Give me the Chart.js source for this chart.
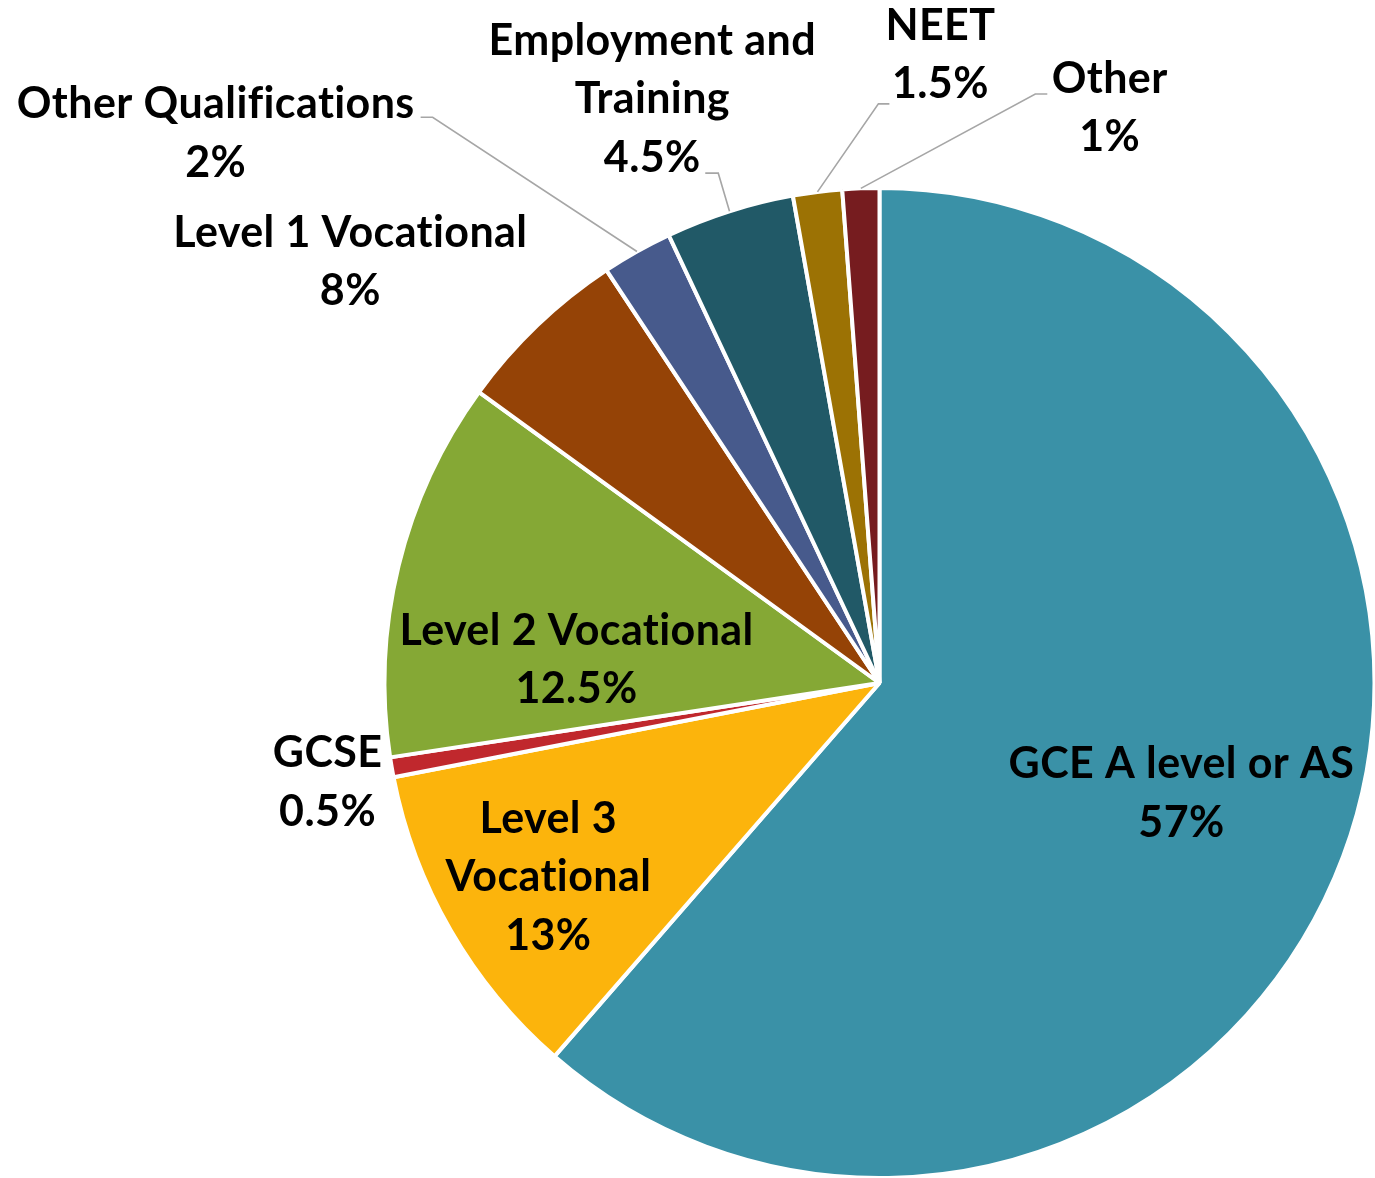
<!DOCTYPE html>
<html>
<head>
<meta charset="utf-8">
<script src="https://cdn.jsdelivr.net/npm/chart.js@4/dist/chart.umd.min.js"></script>
<style>
  html, body { margin: 0; padding: 0; background: #fff; }
  #wrap { width: 1375px; height: 1178px; position: relative; }
</style>
</head>
<body>
<div id="wrap"><canvas id="myChart"></canvas></div>
<script>
// categories, clockwise from 12 o'clock
const categories = ['GCE A level or AS', 'Level 3 Vocational', 'GCSE', 'Level 2 Vocational',
  'Level 1 Vocational', 'Other Qualifications', 'Employment and Training', 'NEET', 'Other'];
// slice sizes as drawn in the picture (percent)
const shares = [61.4, 10.55, 0.65, 12.4, 5.7, 2.3, 4.2, 1.6, 1.2];
// percentages printed on the labels
const pctText = ['57%', '13%', '0.5%', '12.5%', '8%', '2%', '4.5%', '1.5%', '1%'];
// label text, split into lines
const labelLines = [['GCE A level or AS'], ['Level 3', 'Vocational'], ['GCSE'], ['Level 2 Vocational'],
  ['Level 1 Vocational'], ['Other Qualifications'], ['Employment and', 'Training'], ['NEET'], ['Other']];

const colors = ['#3A91A7', '#FCB40C', '#C0282D', '#85A835', '#954306', '#475A8C', '#215967', '#9C7204', '#761C1F'];

// where each label sits (first baseline), in pie radii from the centre
const labelPos = [[0.610, 0.192], [-0.669, 0.303], [-1.115, 0.170], [-0.612, -0.077],
  [-1.069, -0.881], [-1.341, -1.141], [-0.459, -1.269], [0.123, -1.299], [0.465, -1.192]];
// leader line start (radii) + short horizontal elbow (px); null = no leader
const leaderPos = [null, null, null, null, null,
  [-0.927, -1.143, 12], [-0.352, -1.030, 13], [0.020, -1.170, -11], [0.339, -1.190, -12]];

const lineGap = 58.5;

const sliceLabels = {
  id: 'sliceLabels',
  afterDatasetsDraw(chart) {
    const ctx = chart.ctx;
    const arcs = chart.getDatasetMeta(0).data;
    ctx.save();
    ctx.strokeStyle = '#A6A6A6';
    ctx.lineWidth = 1.6;
    arcs.forEach((arc, i) => {
      const lead = leaderPos[i];
      if (!lead) return;
      const r = arc.outerRadius;
      const sx = arc.x + lead[0] * r, sy = arc.y + lead[1] * r;
      const mid = (arc.startAngle + arc.endAngle) / 2;
      const ex = arc.x + Math.cos(mid) * r, ey = arc.y + Math.sin(mid) * r;
      ctx.beginPath();
      ctx.moveTo(sx, sy);
      ctx.lineTo(sx + lead[2], sy);
      ctx.lineTo(ex, ey);
      ctx.stroke();
    });
    ctx.font = 'bold 43px Lato';
    ctx.letterSpacing = '0.4px'; // also stops the ti / fi ligatures
    ctx.fillStyle = '#000';
    ctx.textAlign = 'center';
    ctx.textBaseline = 'alphabetic';
    arcs.forEach((arc, i) => {
      const r = arc.outerRadius;
      const lx = arc.x + labelPos[i][0] * r;
      const ly = arc.y + labelPos[i][1] * r;
      labelLines[i].concat([pctText[i]]).forEach((t, k) => {
        ctx.fillText(t, lx, ly + k * lineGap);
      });
    });
    ctx.restore();
  }
};

const config = {
  type: 'pie',
  data: {
    labels: categories,
    datasets: [{
      data: shares,
      backgroundColor: colors,
      borderColor: '#ffffff',
      borderWidth: 4
    }]
  },
  options: {
    responsive: true,
    maintainAspectRatio: false,
    animation: false,
    radius: 495,
    layout: { padding: { left: 384, top: 188, right: 0, bottom: 0 } },
    plugins: {
      legend: { display: false },
      tooltip: { enabled: false },
      title: { display: false }
    }
  },
  plugins: [sliceLabels]
};

var ctx = document.getElementById('myChart').getContext('2d');
var grafica = new Chart(ctx, config);
</script>
</body>
</html>
